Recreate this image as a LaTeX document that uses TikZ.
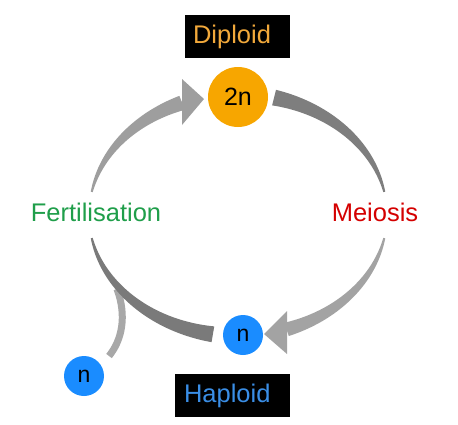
\documentclass[tikz,border=0pt]{standalone}
\usepackage{fontspec}
\setmainfont{Liberation Sans}
\definecolor{orangeC}{HTML}{F7A600}
\definecolor{orangeT}{HTML}{F2A93B}
\definecolor{blueC}{HTML}{1A8CFF}
\definecolor{blueT}{HTML}{3A8EE6}
\definecolor{greenT}{HTML}{1F9E4A}
\definecolor{redT}{HTML}{D40000}
\definecolor{gA}{HTML}{9E9E9E}
\definecolor{gB}{HTML}{7E7E7E}
\definecolor{gC}{HTML}{A3A3A3}
\definecolor{gD}{HTML}{7A7A7A}
\definecolor{gE}{HTML}{A8A8A8}
\newcommand\bandarc[5]{%
  \fill[#5] plot[domain=#1:#2,samples=60,variable=\t]
    ({238+(149+((#3)+((#4)-(#3))*((\t)-(#1))/((#2)-(#1)))/2)*cos(\t)},
     {215-(121+((#3)+((#4)-(#3))*((\t)-(#1))/((#2)-(#1)))/2)*sin(\t)})
    -- plot[domain=#2:#1,samples=60,variable=\t]
    ({238+(149-((#3)+((#4)-(#3))*((\t)-(#1))/((#2)-(#1)))/2)*cos(\t)},
     {215-(121-((#3)+((#4)-(#3))*((\t)-(#1))/((#2)-(#1)))/2)*sin(\t)})
    -- cycle;}
\tikzset{
  lbl/.style={font=\fontsize{25.5}{30}\selectfont},
  cell/.style={circle,inner sep=0pt,font=\fontsize{23}{28}\selectfont},
  tag/.style={fill=black,minimum height=43pt,align=left,inner ysep=0pt,font=\fontsize{25.5}{30}\selectfont}
}
\begin{document}
\begin{tikzpicture}[x=1pt,y=-1pt]
\useasboundingbox (0,0) rectangle (458,424);
% small connector from left n into the big arc
\coordinate (j) at (117,289);
\coordinate (js) at (109,356);
\draw[line width=7pt,gE] (js) .. controls (122,340) and (127,316) .. (j);
% arcs
\bandarc{169}{112}{2}{15}{gA}
\fill[gA] (182,79) -- (204,99) -- (182,125) -- cycle;
\bandarc{76}{11}{16}{2}{gB}
\bandarc{-11}{-71}{2}{14}{gC}
\fill[gC] (287,311) -- (264,334) -- (287,354) -- cycle;
\bandarc{191}{260.3}{2}{16}{gD}
% nodes
\node[cell,fill=orangeC,minimum size=60pt,font=\fontsize{25}{30}\selectfont] (dn) at (238,97) {2n};
\node[cell,fill=blueC,minimum size=40pt] (nr) at (243,335) {n};
\node[cell,fill=blueC,minimum size=40pt] (nl) at (84,376) {n};
\node[tag,text=orangeT,text width=89pt,inner xsep=8pt] (dip) at (237.5,36.5) {Diploid};
\node[tag,text=blueT,text width=97pt,inner xsep=9pt] (hap) at (232.5,395.5) {Haploid};
\node[lbl,text=greenT] (fert) at (96,212) {Fertilisation};
\node[lbl,text=redT] (mei) at (375,212) {Meiosis};
\end{tikzpicture}
\end{document}
